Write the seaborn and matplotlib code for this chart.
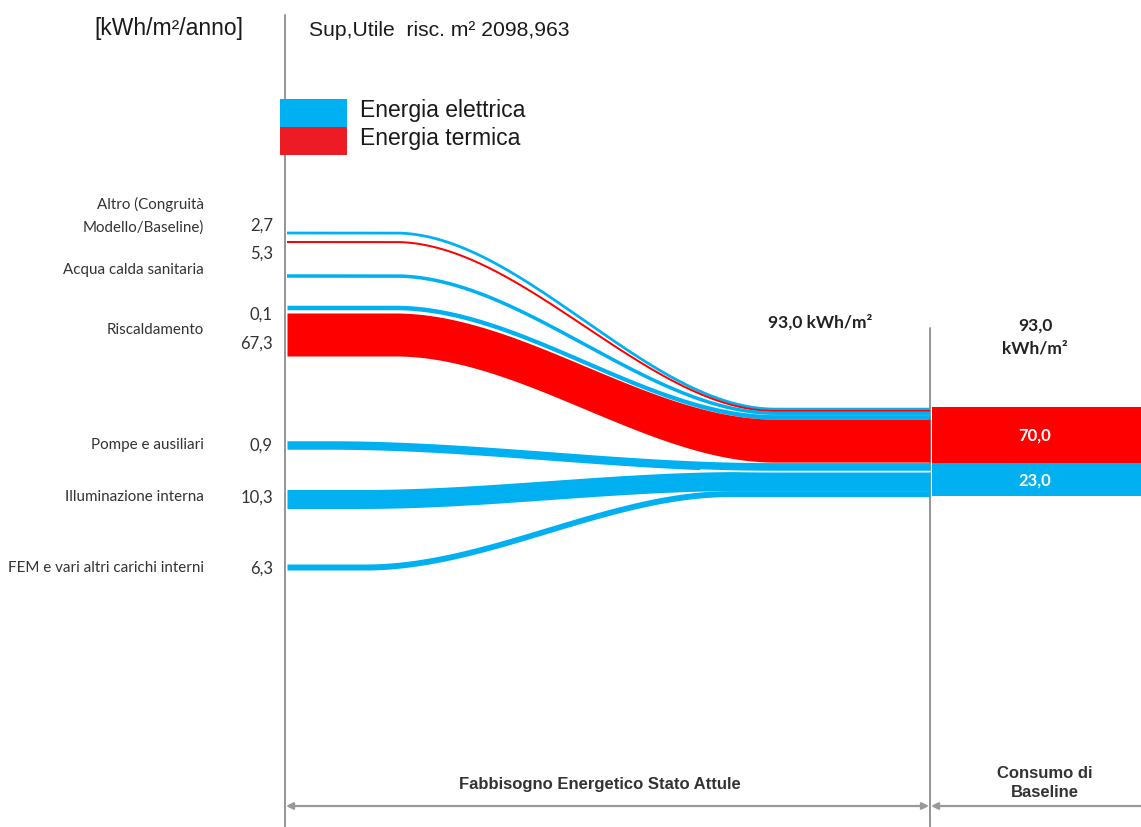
import numpy as np
import matplotlib
matplotlib.use("Agg")
import matplotlib.pyplot as plt
import seaborn as sns
from matplotlib.patches import Rectangle

# ---------------- data ----------------
categories = ["Altro (Congruità\nModello/Baseline)", "Acqua calda sanitaria", "Riscaldamento",
              "Pompe e ausiliari", "Illuminazione interna", "FEM e vari altri carichi interni"]
value_labels = ["2,7", "5,3", "0,1", "67,3", "0,9", "10,3", "6,3"]
# flows (top to bottom): name, carrier
flow_names = ["Altro el.", "Altro term.", "ACS", "Risc. el.", "Risc. term.", "Pompe", "Illuminazione", "FEM"]
flow_carrier = ["el", "th", "el", "el", "th", "el", "el", "el"]
baseline_labels = ["70,0", "23,0"]
baseline_carrier = ["th", "el"]
total_label = "93,0 kWh/m²"
legend_labels = ["Energia elettrica", "Energia termica"]

# ---------------- layout / style (pixel space) ----------------
W, H = 1141, 827
colors = {"el": "#00B0F0", "th": "#FF0000"}
legend_colors = {"el": "#00B0F0", "th": "#ED1C24"}
band_px = [2.2, 1.6, 2.8, 4.5, 43.0, 8.5, 19.0, 6.0]          # drawn band thickness
left_y = [233, 242, 276, 307.5, 334.5, 445, 499, 567]          # band centre at the left
right_top = 408.0
x_start, x_end = 287, 930
bar_px = [56, 33]
bar_top = 407

sns.set_theme(style="white")
plt.rcParams["font.family"] = ["Liberation Sans", "DejaVu Sans"]

fig = plt.figure(figsize=(W / 100, H / 100), dpi=100)
ax = fig.add_axes([0, 0, 1, 1])
ax.set_xlim(0, W)
ax.set_ylim(H, 0)
ax.axis("off")

# right-side stacked centres
right_y = []
cur = right_top
for w in band_px:
    right_y.append(cur + w / 2)
    cur += w
right_y[5] += 0.5
right_y[6] += 1.0
right_y[7] += 1.0

x = np.linspace(x_start, x_end, 800)

def smooth(x, x0, x1):
    t = np.clip((x - x0) / (x1 - x0), 0, 1)
    return 3 * t ** 2 - 2 * t ** 3

for i, name in enumerate(flow_names):
    if name == "FEM":
        s = smooth(x, 365, 730)
    elif name == "Pompe":
        s = smooth(x, 330, 770)
    elif name == "Illuminazione":
        s = smooth(x, 360, 740)
    else:
        s = smooth(x, 395, 775)
    c = left_y[i] + (right_y[i] - left_y[i]) * s
    w = band_px[i]
    col = colors[flow_carrier[i]]
    if w < 3:
        ax.plot(x, c, color=col, lw=w * 0.9, solid_capstyle="butt", zorder=3)
    else:
        ax.fill_between(x, c - w / 2, c + w / 2, color=col, lw=0, zorder=2)
# white separation between pompe and illuminazione near the end
sep = left_y[5] + (right_y[5] - left_y[5]) * smooth(x, 330, 770) + band_px[5] / 2 + 0.5
m = x > 700
ax.plot(x[m], sep[m], color="white", lw=1.2, zorder=4)

# baseline bars
cur = bar_top
for lab, car, h in zip(baseline_labels, baseline_carrier, bar_px):
    ax.bar(x=932, height=h, width=W - 932, bottom=cur, align="edge",
           color=colors[car], lw=0, zorder=2)
    ax.text(1035, cur + h / 2 + 1, lab, color="white", fontsize=12, fontweight="bold",
            ha="center", va="center", family=["Lato", "DejaVu Sans"], zorder=5)
    cur += h

# axes lines
grey = "#8C8C8C"
ax.plot([285, 285], [15, H], color=grey, lw=1.3, zorder=1)
ax.plot([930, 930], [328, H], color=grey, lw=1.3, zorder=1)

# bottom dimension arrows
ax.annotate("", xy=(286, 806), xytext=(929, 806),
            arrowprops=dict(arrowstyle="<|-|>", color="#999999", lw=1.6, mutation_scale=10,
                            shrinkA=0, shrinkB=0))
ax.annotate("", xy=(931, 806), xytext=(W + 20, 806),
            arrowprops=dict(arrowstyle="-|>", color="#999999", lw=1.6, mutation_scale=10,
                            shrinkA=0, shrinkB=0))

narrow = ["Liberation Sans Narrow", "Liberation Sans", "DejaVu Sans"]
ax.text(600, 784, "Fabbisogno Energetico Stato Attule", ha="center", va="center",
        fontsize=12, fontweight="bold", color="#333333", family=narrow)
ax.text(1045, 783, "Consumo di\nBaseline", ha="center", va="center", fontsize=12,
        fontweight="bold", color="#333333", family=narrow, linespacing=1.3)

# header texts
ax.text(243, 28, "[kWh/m²/anno]", ha="right", va="center", fontsize=16.5, color="#1a1a1a")
ax.text(309, 30, "Sup,Utile  risc. m² 2098,963", ha="left", va="center", fontsize=15.2,
        color="#1a1a1a")

# legend
for k, (lab, car) in enumerate(zip(legend_labels, ["el", "th"])):
    y0 = 99 + k * 28
    ax.add_patch(Rectangle((280, y0), 67, 28, color=legend_colors[car], lw=0, zorder=2))
    ax.text(360, y0 + 12, lab, ha="left", va="center", fontsize=16.5, color="#1a1a1a")

# category labels
calib = ["Lato", "DejaVu Sans"]
cat_y = [216, 270, 330, 445, 497, 568]
for lab, yy in zip(categories, cat_y):
    ax.text(204, yy, lab, ha="right", va="center", fontsize=10.9, color="#333333",
            family=calib, linespacing=1.75)
val_y = [226, 254, 315, 344, 446, 498, 569]
for lab, yy in zip(value_labels, val_y):
    ax.text(273, yy, lab, ha="right", va="center", fontsize=12, color="#333333", family=calib)

# totals
ax.text(820, 322, total_label, ha="center", va="center", fontsize=12.5, fontweight="bold",
        color="#222222", family=calib)
ax.text(1035, 337, total_label.replace(" ", "\n"), ha="center", va="center", fontsize=12.5,
        fontweight="bold", color="#222222", family=calib, linespacing=1.5)

fig.savefig("out.png", dpi=100)
